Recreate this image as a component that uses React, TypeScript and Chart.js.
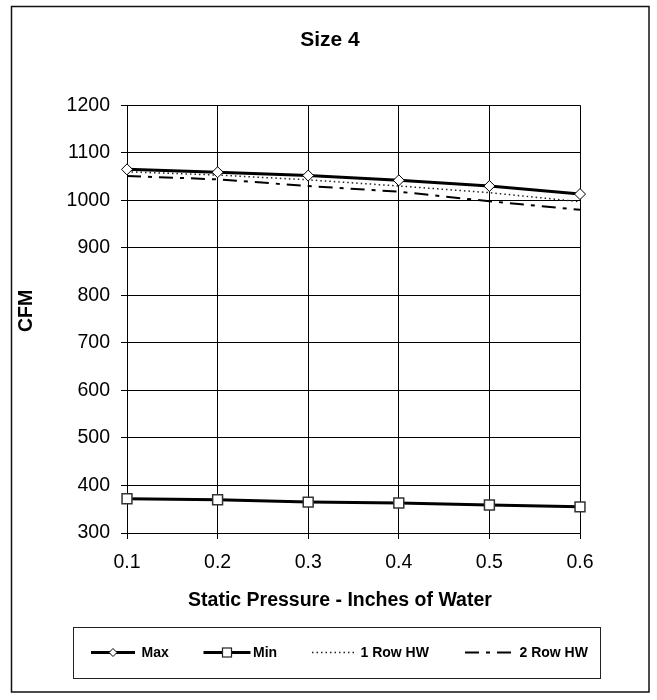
import React, { useEffect, useRef } from "react";
import { Chart, registerables } from "chart.js";

Chart.register(...registerables);

const chartTitle = "Size 4";
const xAxisTitle = "Static Pressure - Inches of Water";
const yAxisTitle = "CFM";
const xLabels = ["0.1", "0.2", "0.3", "0.4", "0.5", "0.6"];
const maxCfm = [1065, 1059, 1052, 1042, 1030, 1013];
const minCfm = [372, 370, 365, 363, 359, 355];
const oneRowHW = [1060, 1053, 1043, 1030, 1016, 997];
const twoRowHW = [1051, 1044, 1030, 1018, 998, 980];
const seriesNames = ["Max", "Min", "1 Row HW", "2 Row HW"];
const yMin = 300;
const yMax = 1200;
const yStep = 100;

const FONT = '"Liberation Sans", Arial, Helvetica, sans-serif';

const framePlugin = {
  id: "frameAndLegend",
  afterDraw(chart: any) {
    const ctx = chart.ctx;
    ctx.save();
    // outer border
    ctx.strokeStyle = "#111";
    ctx.lineWidth = 1.5;
    ctx.strokeRect(11.5, 6.5, 637.5, 685.5);
    // legend box
    ctx.lineWidth = 1;
    ctx.strokeStyle = "#222";
    ctx.strokeRect(73.5, 627.5, 527, 51);

    const ly = 652.5;
    const items = [
      { x0: 91, x1: 135, tx: 141.5 },
      { x0: 203.5, x1: 250.5, tx: 253 },
      { x0: 312, x1: 354, tx: 360.5 },
      { x0: 465, x1: 518, tx: 519.5 },
    ];
    const ds = chart.data.datasets;
    items.forEach((it, i) => {
      const d = ds[i];
      ctx.save();
      ctx.strokeStyle = d.borderColor;
      ctx.lineWidth = d.borderWidth;
      ctx.setLineDash(d.borderDash || []);
      ctx.beginPath();
      ctx.moveTo(it.x0, ly);
      ctx.lineTo(it.x1, ly);
      ctx.stroke();
      ctx.setLineDash([]);
      const cx = (it.x0 + it.x1) / 2;
      if (d.pointStyle === "rectRot" && d.pointRadius > 0) {
        const r = 4;
        ctx.fillStyle = "#fff";
        ctx.strokeStyle = "#000";
        ctx.lineWidth = 1;
        ctx.beginPath();
        ctx.moveTo(cx - r, ly);
        ctx.lineTo(cx, ly - r);
        ctx.lineTo(cx + r, ly);
        ctx.lineTo(cx, ly + r);
        ctx.closePath();
        ctx.fill();
        ctx.stroke();
      } else if (d.pointStyle === "rect" && d.pointRadius > 0) {
        const s = 4.5;
        ctx.fillStyle = "#fff";
        ctx.strokeStyle = "#222";
        ctx.lineWidth = 1.2;
        ctx.fillRect(cx - s, ly - s, 2 * s, 2 * s);
        ctx.strokeRect(cx - s, ly - s, 2 * s, 2 * s);
      }
      ctx.fillStyle = "#000";
      ctx.font = `bold 14px ${FONT}`;
      ctx.textAlign = "left";
      ctx.textBaseline = "middle";
      ctx.fillText(d.label, it.tx, ly + 0.5);
      ctx.restore();
    });
    ctx.restore();
  },
};

export default function App() {
  const ref = useRef<HTMLCanvasElement | null>(null);

  useEffect(() => {
    document.body.style.margin = "0";
    const canvas = ref.current;
    if (!canvas) return;
    const chart = new Chart(canvas, {
      type: "line",
      data: {
        labels: xLabels,
        datasets: [
          {
            label: seriesNames[0],
            data: maxCfm,
            borderColor: "#000",
            borderWidth: 3,
            pointStyle: "rectRot",
            pointRadius: 5.5,
            pointBackgroundColor: "#fff",
            pointBorderColor: "#000",
            pointBorderWidth: 1,
            tension: 0,
          },
          {
            label: seriesNames[1],
            data: minCfm,
            borderColor: "#000",
            borderWidth: 3,
            pointStyle: "rect",
            pointRadius: 7,
            pointBackgroundColor: "#fff",
            pointBorderColor: "#333",
            pointBorderWidth: 1.5,
            tension: 0,
          },
          {
            label: seriesNames[2],
            data: oneRowHW,
            borderColor: "#222",
            borderWidth: 1.5,
            borderDash: [1.5, 3],
            pointRadius: 0,
            tension: 0,
          },
          {
            label: seriesNames[3],
            data: twoRowHW,
            borderColor: "#000",
            borderWidth: 2,
            borderDash: [14, 7, 4, 7],
            pointRadius: 0,
            tension: 0,
          },
        ] as any,
      },
      options: {
        animation: false,
        responsive: true,
        maintainAspectRatio: false,
        layout: { padding: { left: 12, right: 9, top: 0, bottom: 80 } },
        plugins: {
          legend: { display: false },
          tooltip: { enabled: false },
          title: {
            display: true,
            text: chartTitle,
            color: "#000",
            font: { family: FONT, size: 21, weight: "bold" },
            padding: { top: 28, bottom: 52 },
          },
        },
        scales: {
          x: {
            type: "category",
            offset: false,
            grid: {
              offset: false,
              color: "#000",
              lineWidth: 1,
              tickLength: 6,
              drawTicks: true,
            },
            border: { display: true, color: "#000", width: 1 },
            ticks: {
              color: "#000",
              font: { family: FONT, size: 19.5 },
              padding: 12,
              maxRotation: 0,
              autoSkip: false,
            },
            title: {
              display: true,
              text: xAxisTitle + "     ",
              color: "#000",
              font: { family: FONT, size: 19.5, weight: "bold" },
              padding: { top: 0, bottom: 8 },
            },
            afterFit(s: any) {
              s.height = 87;
            },
          },
          y: {
            type: "linear",
            position: "left",
            min: yMin,
            max: yMax,
            grid: {
              color: "#000",
              lineWidth: 1,
              tickLength: 6,
              drawTicks: true,
            },
            border: { display: true, color: "#000", width: 1 },
            ticks: {
              stepSize: yStep,
              color: "#000",
              font: { family: FONT, size: 19.5 },
              padding: 11,
              callback: (v: any) => String(v),
            },
            title: {
              display: true,
              text: "   " + yAxisTitle,
              color: "#000",
              font: { family: FONT, size: 19.5, weight: "bold" },
              padding: { top: 3, bottom: 0 },
            },
            afterFit(s: any) {
              s.width = 115;
            },
          },
          y2: {
            type: "linear",
            position: "right",
            display: true,
            grid: { display: false, drawTicks: false },
            border: { display: false },
            ticks: { display: false },
            afterFit(s: any) {
              s.width = 68;
            },
          },
        },
      } as any,
      plugins: [framePlugin],
    });
    return () => chart.destroy();
  }, []);

  return (
    <div style={{ position: "absolute", left: 0, top: 0, width: 657, height: 700, background: "#fff" }}>
      <canvas ref={ref} />
    </div>
  );
}
